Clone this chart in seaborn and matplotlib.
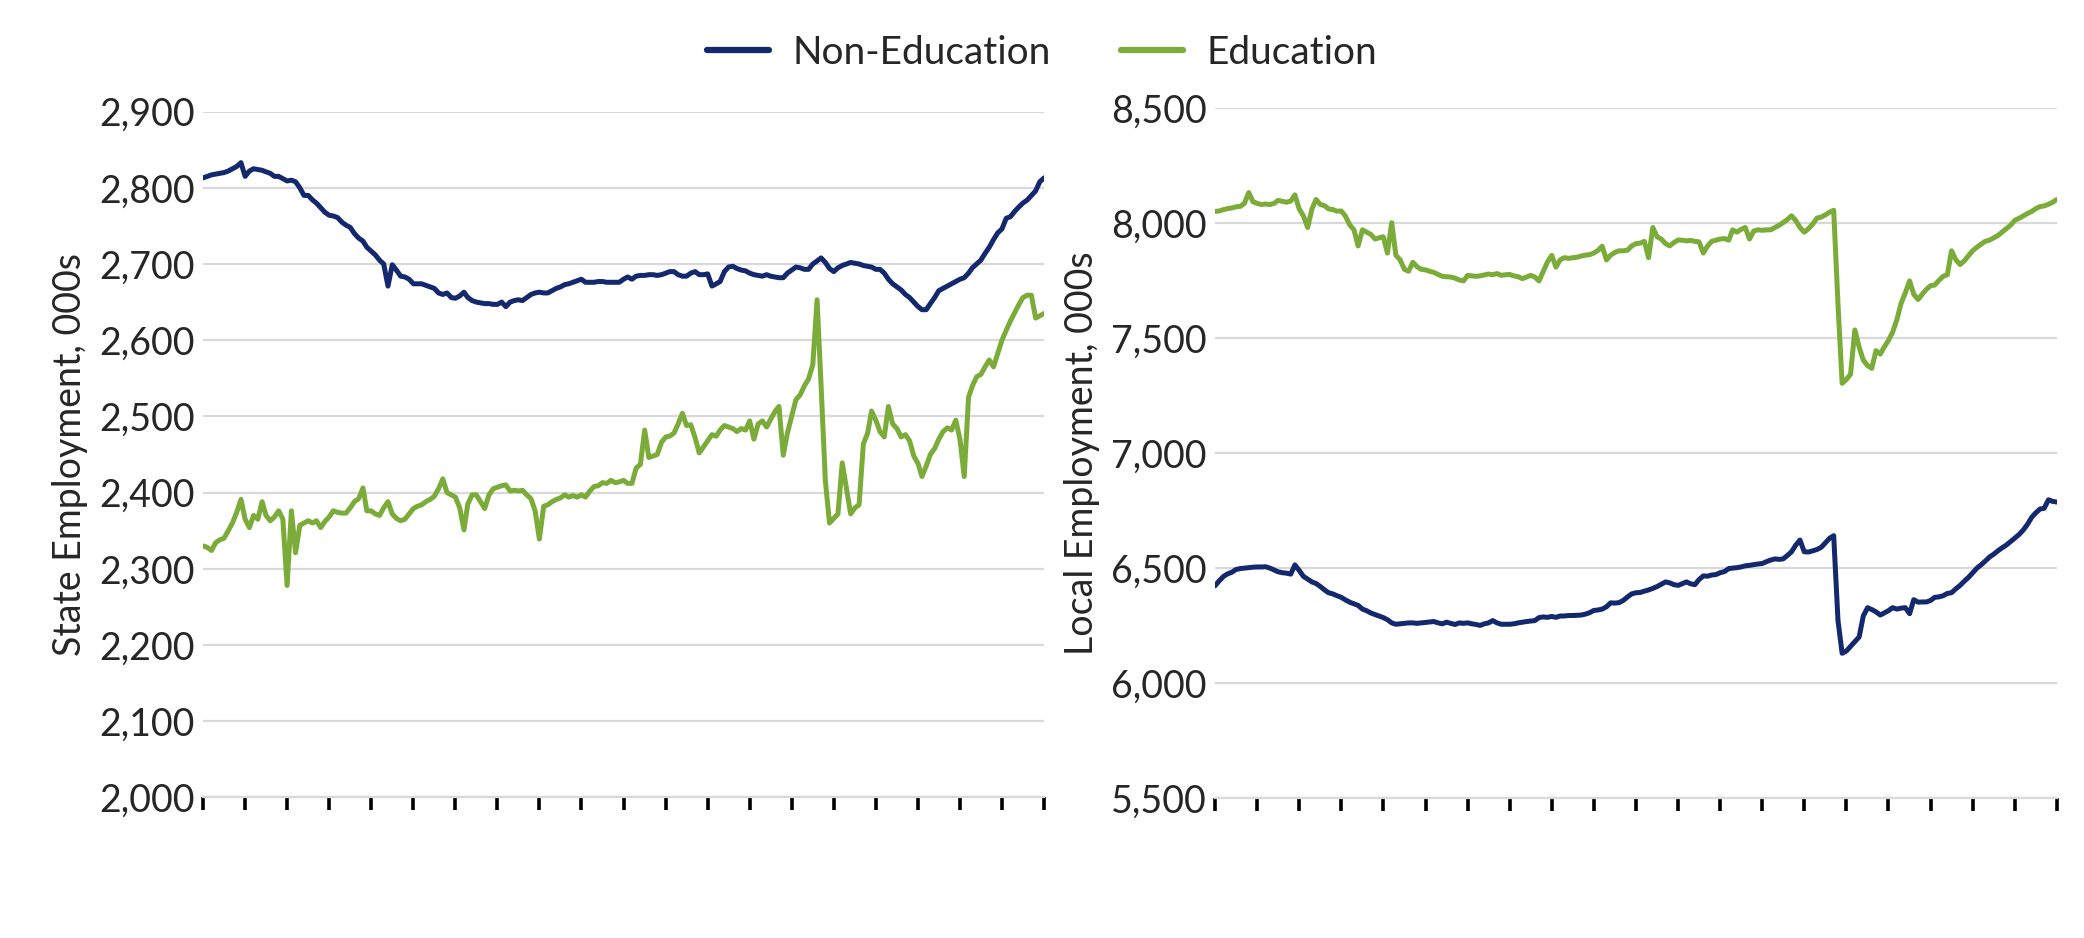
import numpy as np
import pandas as pd
import matplotlib
matplotlib.use("Agg")
import matplotlib.pyplot as plt
import matplotlib.dates as mdates
from matplotlib.lines import Line2D
import seaborn as sns

# Monthly values, Dec 2007 .. Aug 2024 (thousands)
state_nonedu = [
 2813,2815,2817,2818,2819,2820,2822,2825,2828,2833,
 2815,2822,2825,2824,2823,2821,2819,2815,2815,2812,
 2809,2810,2808,2800,2790,2790,2784,2780,2774,2768,
 2764,2763,2761,2755,2751,2748,2740,2734,2730,2722,
 2717,2712,2705,2700,2671,2699,2692,2684,2683,2680,
 2674,2674,2674,2672,2670,2668,2662,2660,2662,2656,
 2655,2658,2663,2656,2652,2650,2649,2648,2648,2647,
 2647,2650,2644,2650,2652,2653,2652,2656,2660,2662,
 2663,2662,2662,2665,2668,2670,2673,2674,2676,2678,
 2680,2676,2676,2676,2677,2677,2676,2676,2676,2676,
 2680,2683,2680,2684,2685,2685,2686,2686,2685,2686,
 2688,2690,2690,2686,2684,2684,2688,2690,2686,2686,
 2687,2671,2674,2677,2690,2696,2697,2694,2692,2691,
 2688,2686,2685,2684,2686,2684,2683,2682,2682,2688,
 2692,2696,2695,2693,2693,2700,2704,2708,2702,2694,
 2690,2695,2698,2700,2702,2701,2700,2698,2697,2696,
 2693,2693,2688,2680,2674,2670,2666,2660,2656,2650,
 2644,2640,2640,2648,2656,2665,2668,2671,2674,2677,
 2680,2682,2688,2695,2700,2705,2714,2722,2732,2741,
 2746,2760,2762,2769,2775,2780,2784,2790,2796,2808,
 2813]
state_edu = [
 2330,2328,2324,2334,2338,2340,2350,2360,2374,2391,
 2365,2354,2370,2365,2388,2370,2363,2368,2376,2365,
 2278,2376,2321,2357,2360,2363,2360,2363,2354,2362,
 2368,2376,2374,2373,2373,2380,2388,2392,2406,2376,
 2376,2372,2370,2380,2388,2372,2366,2363,2365,2372,
 2379,2382,2384,2388,2391,2395,2405,2418,2400,2397,
 2394,2380,2351,2385,2397,2397,2388,2379,2397,2405,
 2407,2409,2410,2402,2403,2402,2403,2397,2392,2376,
 2339,2382,2384,2388,2391,2393,2397,2394,2396,2394,
 2397,2394,2402,2408,2409,2413,2412,2416,2413,2414,
 2416,2412,2412,2432,2437,2482,2446,2448,2450,2466,
 2473,2474,2478,2490,2504,2488,2489,2472,2452,2460,
 2468,2476,2474,2482,2488,2486,2484,2480,2484,2482,
 2494,2470,2490,2494,2486,2496,2506,2513,2449,2478,
 2500,2522,2528,2540,2549,2568,2653,2540,2415,2360,
 2366,2372,2439,2405,2372,2380,2384,2464,2478,2507,
 2495,2480,2473,2513,2490,2484,2473,2476,2468,2448,
 2438,2421,2435,2450,2458,2470,2480,2485,2482,2495,
 2470,2421,2525,2540,2552,2555,2565,2574,2565,2583,
 2600,2613,2625,2636,2647,2656,2659,2659,2629,2632,
 2635]
local_edu = [
 8050,8052,8058,8062,8065,8070,8072,8085,8132,8092,
 8085,8080,8082,8080,8085,8098,8094,8090,8095,8122,
 8061,8030,7980,8060,8102,8080,8075,8061,8058,8051,
 8052,8030,7992,7970,7900,7970,7960,7950,7930,7935,
 7940,7869,8001,7860,7839,7798,7790,7829,7810,7798,
 7796,7790,7785,7776,7768,7766,7765,7760,7752,7748,
 7772,7770,7768,7770,7774,7778,7775,7780,7772,7775,
 7776,7770,7766,7758,7765,7772,7765,7748,7790,7830,
 7859,7808,7840,7849,7846,7849,7851,7856,7860,7862,
 7869,7880,7899,7839,7860,7872,7879,7879,7882,7900,
 7910,7912,7920,7849,7980,7940,7930,7910,7900,7915,
 7926,7925,7922,7924,7920,7918,7869,7900,7920,7925,
 7930,7932,7925,7970,7960,7972,7980,7930,7965,7970,
 7968,7970,7970,7980,7990,8001,8015,8031,8010,7980,
 7960,7975,7995,8021,8025,8035,8047,8055,7647,7303,
 7320,7343,7535,7460,7404,7380,7368,7445,7430,7460,
 7490,7525,7580,7650,7697,7748,7690,7667,7690,7712,
 7728,7730,7750,7768,7775,7879,7840,7819,7835,7858,
 7879,7895,7908,7920,7925,7935,7945,7960,7975,7990,
 8011,8020,8030,8041,8050,8062,8071,8074,8081,8090,
 8102]
local_nonedu = [
 6423,6445,6464,6475,6482,6494,6498,6500,6502,6504,
 6505,6505,6506,6500,6492,6484,6480,6478,6474,6514,
 6490,6464,6452,6440,6433,6420,6405,6393,6388,6380,
 6373,6362,6352,6345,6338,6322,6315,6305,6298,6292,
 6285,6276,6262,6256,6258,6260,6262,6262,6260,6262,
 6264,6266,6268,6262,6258,6265,6260,6255,6262,6260,
 6262,6258,6255,6251,6258,6262,6272,6262,6256,6256,
 6256,6258,6262,6265,6268,6270,6272,6285,6288,6286,
 6290,6286,6292,6292,6294,6294,6295,6296,6300,6306,
 6316,6318,6322,6332,6349,6348,6350,6360,6375,6388,
 6393,6394,6400,6405,6412,6420,6430,6440,6436,6428,
 6425,6432,6440,6432,6428,6450,6466,6465,6470,6472,
 6480,6485,6498,6500,6502,6505,6510,6512,6515,6518,
 6520,6528,6535,6540,6538,6540,6555,6571,6600,6622,
 6571,6570,6575,6581,6590,6610,6630,6641,6272,6130,
 6140,6160,6180,6201,6292,6328,6320,6310,6296,6305,
 6315,6328,6322,6326,6328,6302,6363,6352,6353,6353,
 6360,6373,6375,6380,6390,6393,6410,6425,6443,6460,
 6480,6500,6515,6530,6548,6560,6575,6588,6600,6615,
 6630,6646,6665,6690,6721,6740,6757,6760,6797,6790,
 6787]

series_names = ["Non-Education", "Education"]
tick_labels = ["Oct\n08", "Jun\n10", "Feb\n12", "Oct\n13", "Jun\n15",
               "Feb\n17", "Oct\n18", "Jun\n20", "Feb\n22", "Oct\n23"]

NAVY = "#14286e"
GREEN = "#7bac39"

sns.set_theme(style="white")
plt.rcParams["font.family"] = ["Lato", "DejaVu Sans"]

def frame(vals, name):
    d = pd.date_range("2007-12-01", periods=len(vals), freq="MS")
    return pd.DataFrame({"date": d, "value": vals, "series": name})

fig = plt.figure(figsize=(20.84, 9.38), dpi=100)
ax1 = fig.add_axes([0.0974, 0.150, 0.4036, 0.731])
ax2 = fig.add_axes([0.583, 0.149, 0.404, 0.736])

start = pd.Timestamp("2007-12-01")
end = pd.Timestamp("2024-08-01")
major = pd.date_range(start, end, freq="10MS")
labeled = major[1::2]

panels = [
    (ax1, state_nonedu, state_edu, (2000, 2900), np.arange(2000, 2901, 100), "State Employment, 000s"),
    (ax2, local_nonedu, local_edu, (5500, 8500), np.arange(5500, 8501, 500), "Local Employment, 000s"),
]
for ax, ne, ed, ylim, yt, ylab in panels:
    df = pd.concat([frame(ne, series_names[0]), frame(ed, series_names[1])])
    sns.lineplot(data=df, x="date", y="value", hue="series",
                 palette={series_names[0]: NAVY, series_names[1]: GREEN},
                 linewidth=3.6, ax=ax, legend=False)
    ax.set_xlim(start, end)
    ax.set_ylim(*ylim)
    ax.set_yticks(yt)
    ax.set_yticklabels([f"{v:,}" for v in yt])
    ax.yaxis.grid(True, color="#d9d9d9", linewidth=1.6)
    ax.xaxis.grid(False)
    ax.set_xticks(major)
    ax.set_xticklabels(["" for _ in major])
    ax.set_xticks(labeled, minor=True)
    ax.set_xticklabels(tick_labels, minor=True)
    ax.tick_params(axis="x", which="major", length=9, width=2.6, color="black",
                   direction="out", bottom=True)
    ax.tick_params(axis="x", which="minor", length=0, labelsize=27, pad=12)
    ax.tick_params(axis="y", length=0, labelsize=27, pad=6)
    for s in ["top", "right", "left"]:
        ax.spines[s].set_visible(False)
    ax.spines["bottom"].set_color("#d9d9d9")
    ax.spines["bottom"].set_linewidth(1.6)
    ax.set_xlabel("")
    ax.set_ylabel(ylab, fontsize=27, labelpad=8)
    for t in ax.get_xticklabels(minor=True):
        t.set_linespacing(1.25)

handles = [Line2D([], [], color=NAVY, linewidth=4.5),
           Line2D([], [], color=GREEN, linewidth=4.5)]
fig.legend(handles, series_names, loc="upper center", bbox_to_anchor=(0.5, 1.0),
           ncol=2, frameon=False, fontsize=28, handlelength=1.6,
           columnspacing=1.8, handletextpad=0.6)

fig.savefig("out.png", dpi=100)
